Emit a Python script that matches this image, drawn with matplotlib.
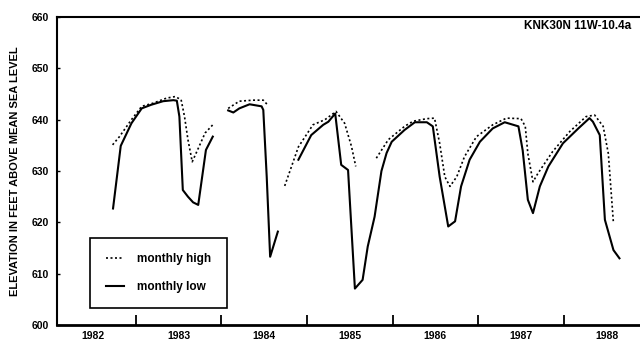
import matplotlib
matplotlib.use("Agg")
import matplotlib.pyplot as plt
import numpy as np

# monthly low, decimal year / elevation (ft); nan breaks the line
low_year = [1982.735, 1982.825, 1982.95, 1983.07, 1983.18, 1983.32, 1983.44, 1983.48,
            1983.51, 1983.55, 1983.61, 1983.67, 1983.73, 1983.82, 1983.90, np.nan,
            1984.08, 1984.14, 1984.21, 1984.33, 1984.47, 1984.49, 1984.53, 1984.57,
            1984.66, np.nan,
            1984.90, 1985.05, 1985.19, 1985.25, 1985.33, 1985.40, 1985.48, 1985.56,
            1985.65, 1985.71, 1985.79, 1985.87, 1985.93, 1985.99, 1986.14, 1986.26,
            1986.40, 1986.47, 1986.55, 1986.65, 1986.73, 1986.80, 1986.90, 1987.02,
            1987.17, 1987.31, 1987.47, 1987.52, 1987.58, 1987.64, 1987.72, 1987.82,
            1987.99, 1988.17, 1988.30, 1988.34, 1988.42, 1988.48, 1988.58, 1988.65]
low_ft = [622.7, 634.9, 639.3, 642.2, 642.9, 643.6, 643.8, 643.7,
          640.6, 626.3, 625.0, 623.9, 623.4, 634.1, 636.7, np.nan,
          641.8, 641.4, 642.2, 643.0, 642.6, 641.9, 628.9, 613.3,
          618.2, np.nan,
          632.2, 637.0, 639.0, 639.6, 641.2, 631.2, 630.2, 607.1,
          608.8, 615.3, 621.1, 630.0, 633.5, 635.7, 638.0, 639.5,
          639.5, 638.7, 628.9, 619.2, 620.2, 627.0, 632.2, 635.7,
          638.3, 639.5, 638.7, 634.0, 624.4, 621.8, 627.0, 630.9,
          635.4, 638.3, 640.3, 639.6, 637.0, 620.5, 614.6, 613.0]

# monthly high
high_year = [1982.73, 1982.81, 1982.95, 1983.07, 1983.20, 1983.36, 1983.46, 1983.53,
             1983.57, 1983.61, 1983.66, 1983.73, 1983.81, 1983.90, np.nan,
             1984.08, 1984.21, 1984.37, 1984.49, 1984.55, np.nan,
             1984.74, 1984.90, 1985.07, 1985.21, 1985.34, 1985.44, 1985.52, 1985.57, np.nan,
             1985.81, 1985.95, 1986.14, 1986.24, 1986.40, 1986.49, 1986.55, 1986.61,
             1986.67, 1986.75, 1986.84, 1986.98, 1987.17, 1987.33, 1987.50, 1987.55,
             1987.58, 1987.64, 1987.70, 1987.87, 1988.07, 1988.26, 1988.36, 1988.46,
             1988.52, 1988.58]
high_ft = [635.1, 636.7, 640.0, 642.6, 643.2, 644.2, 644.5, 643.9,
           640.6, 636.1, 631.8, 634.4, 637.4, 639.0, np.nan,
           642.2, 643.6, 643.8, 643.8, 642.7, np.nan,
           627.1, 634.7, 639.0, 640.0, 641.6, 639.3, 634.8, 630.9, np.nan,
           632.5, 636.1, 638.7, 639.7, 640.2, 640.3, 635.4, 628.9,
           627.0, 628.9, 632.8, 636.7, 639.0, 640.3, 640.2, 638.7,
           633.4, 627.9, 629.6, 633.8, 637.7, 640.6, 640.9, 638.7,
           633.4, 619.8]

years = [1982, 1983, 1984, 1985, 1986, 1987, 1988]
yticks = [600, 610, 620, 630, 640, 650, 660]
site = "KNK30N 11W-10.4a"

fig = plt.figure(figsize=(6.4, 3.4), dpi=100)
ax = fig.add_axes([0.089, 0.044, 0.911, 0.906])

ax.plot(high_year, high_ft, color="black", lw=1.2, linestyle=(0, (1.2, 1.5)),
        label="monthly high")
ax.plot(low_year, low_ft, color="black", lw=1.5, label="monthly low")

ax.set_xlim(1982.08, 1988.89)
ax.set_ylim(600, 660)

# year boundaries get the tick marks, labels sit mid-year
ax.set_xticks([y + 1 for y in years[:-1]])
ax.set_xticklabels([])
ax.set_xticks([y + 0.5 for y in years], minor=True)
ax.set_xticklabels([str(y) for y in years], minor=True, fontsize=7.5,
                   fontweight="bold", family="Liberation Sans")
ax.tick_params(axis="x", which="major", direction="in", length=7, width=1.3)
ax.tick_params(axis="x", which="minor", length=0, pad=4)

ax.set_yticks(yticks)
ax.set_yticklabels([str(v) for v in yticks], fontsize=7.5, fontweight="bold",
                   family="Liberation Sans")
ax.tick_params(axis="y", direction="in", length=2, width=1, pad=6)

ax.set_ylabel("ELEVATION IN FEET ABOVE MEAN SEA LEVEL", fontsize=8,
              fontweight="bold", family="Liberation Sans", labelpad=8)

ax.spines["right"].set_visible(False)
ax.spines["bottom"].set_linewidth(2)
ax.spines["left"].set_linewidth(1.5)
ax.spines["top"].set_linewidth(1.5)

leg = ax.legend(loc="lower left", bbox_to_anchor=(0.057, 0.055), borderaxespad=0,
                fancybox=False, edgecolor="black", framealpha=1, handlelength=1.6,
                handletextpad=1.1, labelspacing=1.3, borderpad=1.3,
                prop={"family": "Liberation Sans", "size": 8.5, "weight": "bold"})
leg.get_frame().set_linewidth(1.2)

# the reference crops this label at the right edge; keep it whole here
fig.text(524 / 640, 1 - 26 / 340, site, ha="left", va="center", fontsize=8.5,
         fontweight="bold", family="Liberation Sans")

fig.savefig("out.png", dpi=100)
